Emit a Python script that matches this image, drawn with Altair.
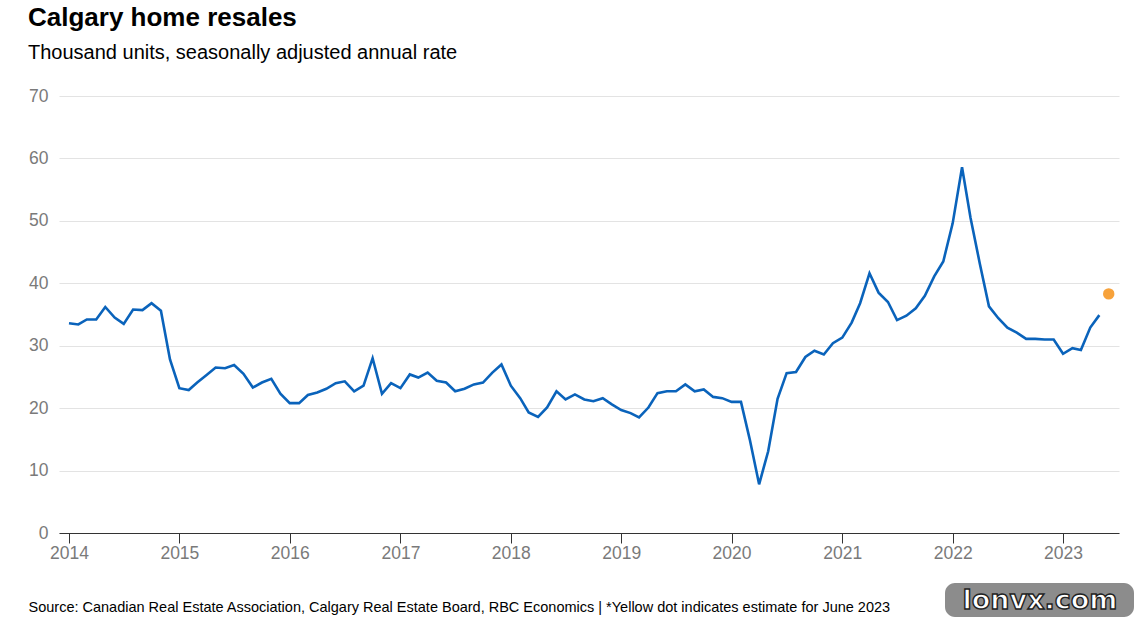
import altair as alt
import pandas as pd

# Monthly resales, thousand units SAAR, Jan 2014 - May 2023
resales_2014 = [33.6, 33.4, 34.2, 34.2, 36.2, 34.5, 33.5, 35.8, 35.7, 36.8, 35.6, 27.8]
resales_2015 = [23.2, 22.9, 24.1, 25.3, 26.5, 26.4, 26.9, 25.5, 23.3, 24.1, 24.7, 22.3]
resales_2016 = [20.8, 20.8, 22.1, 22.5, 23.1, 24.0, 24.3, 22.7, 23.6, 28.0, 22.3, 24.0]
resales_2017 = [23.2, 25.4, 24.9, 25.7, 24.4, 24.1, 22.7, 23.1, 23.8, 24.1, 25.7, 27.0]
resales_2018 = [23.6, 21.6, 19.3, 18.6, 20.1, 22.7, 21.4, 22.2, 21.4, 21.1, 21.6, 20.6]
resales_2019 = [19.7, 19.2, 18.5, 20.1, 22.4, 22.7, 22.7, 23.8, 22.7, 23.0, 21.8, 21.6]
resales_2020 = [21.0, 21.0, 15.0, 7.8, 13.1, 21.5, 25.6, 25.8, 28.2, 29.2, 28.6, 30.4]
resales_2021 = [31.3, 33.7, 36.8, 41.6, 38.5, 37.0, 34.1, 34.8, 36.0, 38.0, 41.1, 43.5]
resales_2022 = [49.6, 58.6, 50.5, 43.1, 36.3, 34.4, 32.9, 32.1, 31.1, 31.1, 31.0, 31.0]
resales_2023 = [28.7, 29.6, 29.3, 32.9, 34.9]

# June 2023 estimate
estimate_month = ["2023-06-01"]
estimate_value = [38.3]

year_ticks = [f"{y}-01-01" for y in range(2014, 2024)]

values = (resales_2014 + resales_2015 + resales_2016 + resales_2017 + resales_2018
          + resales_2019 + resales_2020 + resales_2021 + resales_2022 + resales_2023)
months = pd.date_range("2014-01-01", periods=len(values), freq="MS")
line_df = pd.DataFrame({"month": months.strftime("%Y-%m-%d"), "value": values})
dot_df = pd.DataFrame({"month": estimate_month, "value": estimate_value})

FONT = "Liberation Sans"
x_scale = alt.Scale(domain=["2013-11-29", "2023-07-05"])
y_scale = alt.Scale(domain=[0, 70])

x_enc = alt.X(
    "month:T",
    scale=x_scale,
    axis=alt.Axis(
        values=year_ticks,
        format="%Y",
        grid=False,
        domainColor="#333333",
        domainWidth=1.2,
        tickColor="#333333",
        tickSize=10,
        labelColor="#7a7a7a",
        labelFontSize=17.5,
        labelFont=FONT,
        labelPadding=1,
        title="Source: Canadian Real Estate Association, Calgary Real Estate Board, RBC Economics | *Yellow dot indicates estimate for June 2023",
        titleFont=FONT,
        titleFontSize=14.5,
        titleFontWeight="normal",
        titleColor="#000000",
        titleAlign="left",
        titleBaseline="alphabetic",
        titleAnchor="start",
        titleX=-31,
        titleY=78,
    ),
)
y_enc = alt.Y(
    "value:Q",
    scale=y_scale,
    axis=alt.Axis(
        values=[0, 10, 20, 30, 40, 50, 60, 70],
        domain=False,
        ticks=False,
        gridColor="#e3e3e3",
        gridWidth=1.2,
        labelColor="#7a7a7a",
        labelFontSize=17.5,
        labelFont=FONT,
        labelPadding=11,
        title=None,
    ),
)

line = alt.Chart(line_df).mark_line(color="#0a63bb", strokeWidth=2.6).encode(x=x_enc, y=y_enc)
dot = alt.Chart(dot_df).mark_circle(color="#f7a23b", size=130, opacity=1).encode(x=x_enc, y=y_enc)

# watermark badge in the lower right corner
badge = alt.Chart(pd.DataFrame({"t": ["lonvx.com"]})).mark_rect(
    color="#8c8c8c", cornerRadius=10
).encode(x=alt.value(886), x2=alt.value(1075), y=alt.value(487), y2=alt.value(521))
badge_text = alt.Chart(pd.DataFrame({"t": ["lonvx.com"]})).mark_text(
    font="DejaVu Sans", fontSize=27, fontWeight="bold", color="#ffffff",
    stroke="#222222", strokeWidth=1.4, align="center", baseline="middle"
).encode(x=alt.value(981), y=alt.value(505), text="t:N")

chart = (
    alt.layer(line, dot, badge, badge_text)
    .properties(
        width=1060,
        height=437,
        background="#ffffff",
        title=alt.Title(
            "Calgary home resales",
            subtitle="Thousand units, seasonally adjusted annual rate",
            anchor="start",
            frame="group",
            dx=-31,
            offset=24,
            font=FONT,
            fontSize=26,
            fontWeight="bold",
            color="#000000",
            subtitleFont=FONT,
            subtitleFontSize=20,
            subtitleColor="#000000",
            subtitlePadding=12,
        ),
        autosize=alt.AutoSizeParams(type="none"),
        padding={"left": 59, "top": 96, "right": 17, "bottom": 94},
    )
    .configure_view(strokeWidth=0, stroke="transparent")
    .configure_axisX(grid=False)
)

chart.save("out.html", embed_options={"renderer": "svg", "actions": False})
